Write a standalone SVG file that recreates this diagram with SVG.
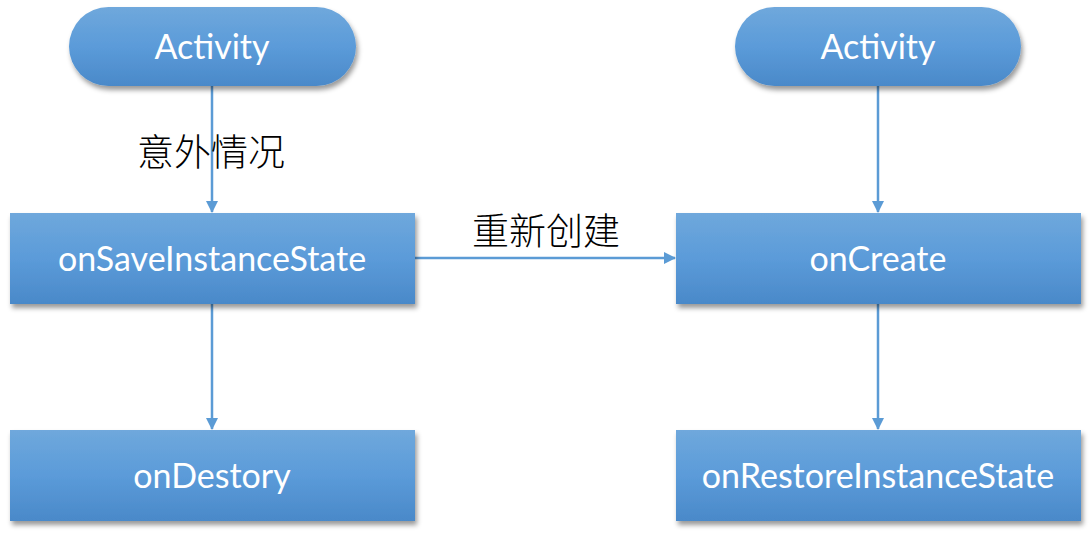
<svg xmlns="http://www.w3.org/2000/svg" width="1091" height="534" viewBox="0 0 1091 534">
<style>
.box{fill:url(#g);filter:url(#sh);}
.t{fill:#ffffff;font-family:Lato,"Liberation Sans",sans-serif;font-size:34px;text-anchor:middle;}
.lbl{fill:#000000;font-family:"Noto Sans CJK SC",sans-serif;font-size:37px;font-weight:300;text-anchor:middle;}
.c{stroke:#5b9bd5;stroke-width:2.5;fill:none;marker-end:url(#ah);}
</style>
<defs>
<linearGradient id="g" x1="0" y1="0" x2="0" y2="1">
<stop offset="0" stop-color="#6fa8dc"/>
<stop offset="0.5" stop-color="#5b9bd9"/>
<stop offset="1" stop-color="#4a89c9"/>
</linearGradient>
<filter id="sh" x="-10%" y="-10%" width="120%" height="130%">
<feDropShadow dx="2" dy="4" stdDeviation="2.5" flood-color="#000" flood-opacity="0.4"/>
</filter>
<marker id="ah" markerWidth="12" markerHeight="12" refX="11" refY="6" orient="auto" markerUnits="userSpaceOnUse">
<path d="M0,0 L12,6 L0,12 Z" fill="#5b9bd5"/>
</marker>
</defs>
<rect width="1091" height="534" fill="#ffffff"/>
<g id="connectors">
<line class="c" x1="212" y1="86" x2="212" y2="212"/>
<line class="c" x1="212" y1="304" x2="212" y2="429"/>
<line class="c" x1="878" y1="86" x2="878" y2="212"/>
<line class="c" x1="878" y1="304" x2="878" y2="429"/>
<line class="c" x1="415" y1="258" x2="675" y2="258"/>
<text class="lbl" x="211" y="166">意外情况</text>
<text class="lbl" x="546" y="245">重新创建</text>
</g>
<g id="activity1">
<rect class="box" x="69" y="7" width="287" height="79" rx="39.5"/>
<text class="t" x="212" y="59">Activity</text>
</g>
<g id="activity2">
<rect class="box" x="735" y="7" width="286" height="79" rx="39.5"/>
<text class="t" x="878" y="59">Activity</text>
</g>
<g id="onSaveInstanceState">
<rect class="box" x="10" y="213" width="405" height="91"/>
<text class="t" x="212" y="271">onSaveInstanceState</text>
</g>
<g id="onCreate">
<rect class="box" x="676" y="213" width="405" height="91"/>
<text class="t" x="878" y="271">onCreate</text>
</g>
<g id="onDestory">
<rect class="box" x="10" y="430" width="405" height="91"/>
<text class="t" x="212" y="488">onDestory</text>
</g>
<g id="onRestoreInstanceState">
<rect class="box" x="676" y="430" width="405" height="91"/>
<text class="t" x="878" y="488">onRestoreInstanceState</text>
</g>
</svg>
